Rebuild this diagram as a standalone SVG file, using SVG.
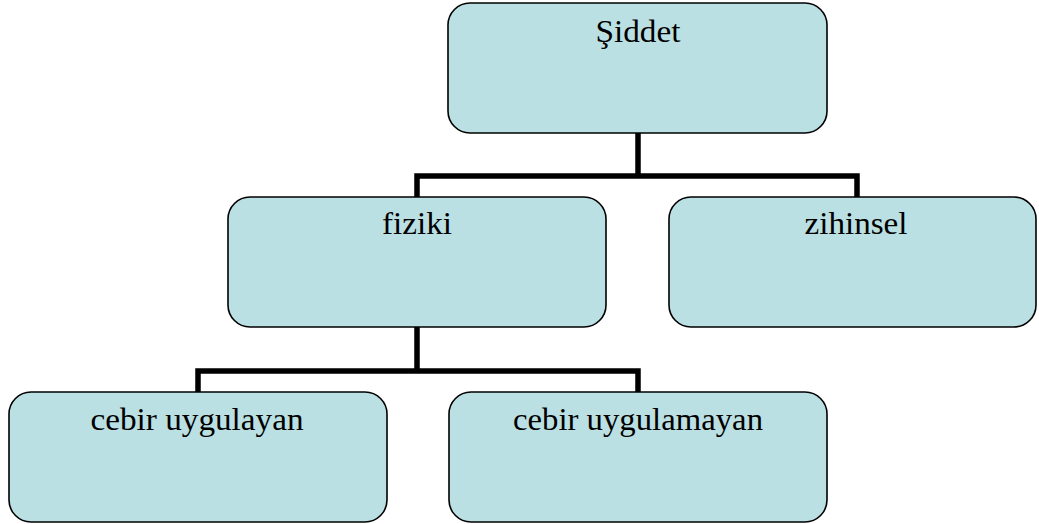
<svg xmlns="http://www.w3.org/2000/svg" width="1039" height="524" viewBox="0 0 1039 524">
<style>
.node rect{fill:#BBE0E3;stroke:#000;stroke-width:1.6}
.node text{font-family:"Liberation Serif","Times New Roman",serif;font-size:32px;fill:#000;text-anchor:middle}
.conn{fill:none;stroke:#000;stroke-width:5.5;stroke-linejoin:miter;stroke-linecap:butt}
</style>
<rect width="1039" height="524" fill="#fff"/>
<g id="connectors">
<path class="conn" d="M638,133 V176 M417,197 V176 H857 V197"/>
<path class="conn" d="M417,327 V371 M198,392 V371 H638 V392"/>
</g>
<g id="n-siddet" class="node">
<rect x="448" y="3" width="379" height="130" rx="22"/>
<text x="638" y="42" textLength="85" lengthAdjust="spacingAndGlyphs">Şiddet</text>
</g>
<g id="n-fiziki" class="node">
<rect x="228" y="197" width="378" height="130" rx="22"/>
<text x="417" y="234" textLength="70" lengthAdjust="spacingAndGlyphs">fiziki</text>
</g>
<g id="n-zihinsel" class="node">
<rect x="669" y="197" width="367" height="130" rx="22"/>
<text x="856" y="234" textLength="103" lengthAdjust="spacingAndGlyphs">zihinsel</text>
</g>
<g id="n-cebir-uygulayan" class="node">
<rect x="9" y="392" width="378" height="130" rx="22"/>
<text x="197" y="430" textLength="213" lengthAdjust="spacingAndGlyphs">cebir uygulayan</text>
</g>
<g id="n-cebir-uygulamayan" class="node">
<rect x="449" y="392" width="378" height="130" rx="22"/>
<text x="638" y="430" textLength="250" lengthAdjust="spacingAndGlyphs">cebir uygulamayan</text>
</g>
</svg>
